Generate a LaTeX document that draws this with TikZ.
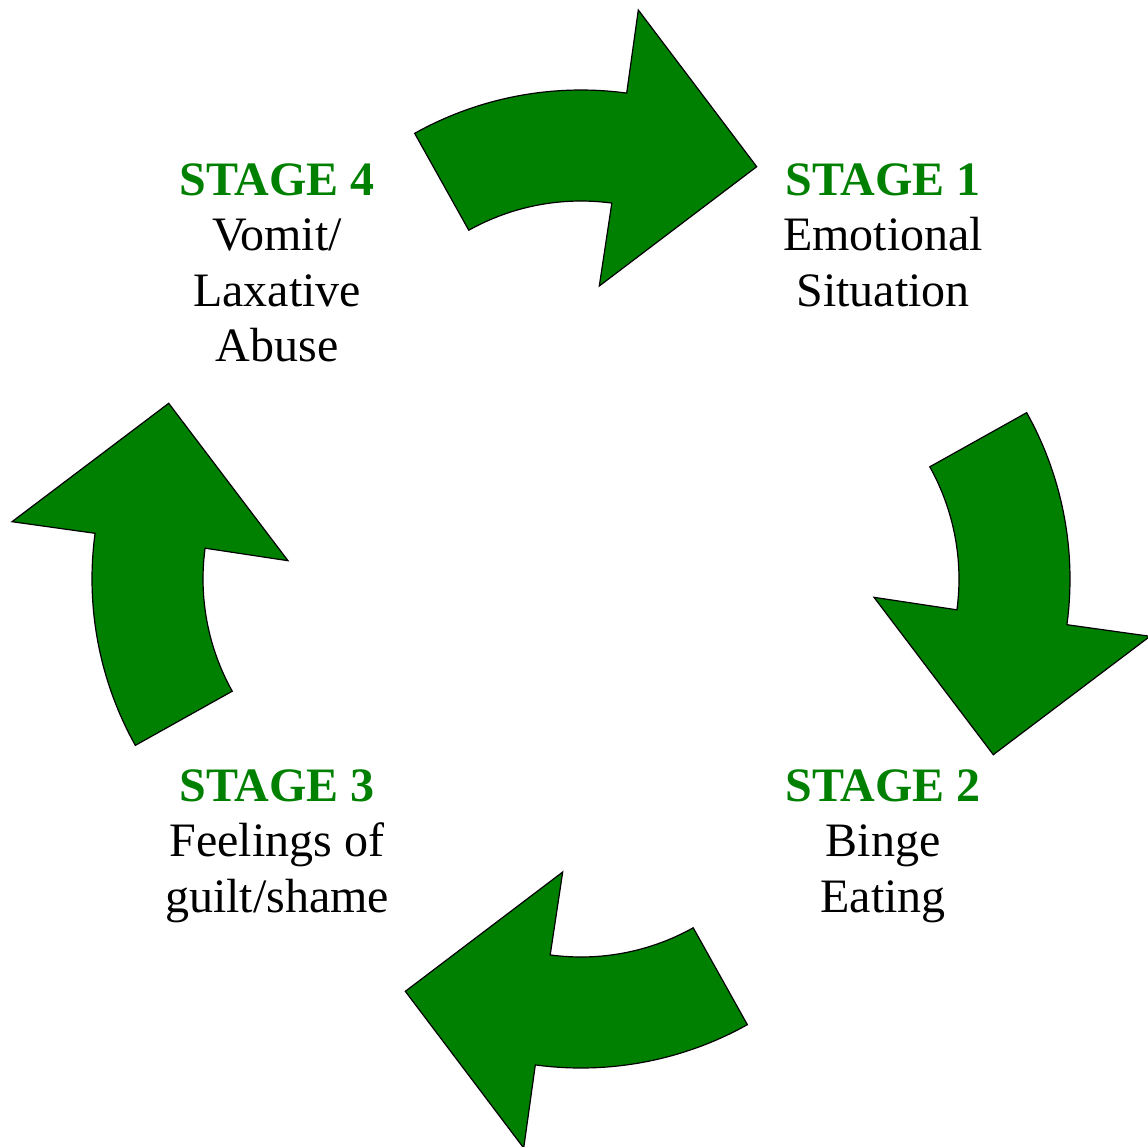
\documentclass[tikz,border=0pt]{standalone}
\usepackage{fontspec}
\setmainfont{Liberation Serif}
\usetikzlibrary{calc}
\definecolor{arrowgreen}{HTML}{008000}
\tikzset{
  cyclearrow/.style={fill=arrowgreen, draw=black, line width=1.2pt, line join=miter},
  stagetext/.style={align=center, inner sep=0pt, anchor=north, font=\fontsize{48}{55.5}\selectfont},
}
\newcommand{\stg}[1]{\textcolor{arrowgreen}{\textbf{STAGE #1}}}
\begin{document}
\begin{tikzpicture}[x=1pt,y=1pt]
\useasboundingbox (0,0) rectangle (1148,-1146);
\coordinate (O) at (581,-579);
\foreach \r [count=\i] in {0,-90,-180,-270}{
  \begin{scope}[shift={(O)}, rotate=\r]
    \path[cyclearrow] ($(0,148)+(119.2:341)$) coordinate (t\i)
      arc[start angle=119.2, end angle=82.3, radius=341]
      -- (57.3,569) -- (175.7,412.3) -- (18.3,293)
      -- ($(0,148)+(82.3:230)$)
      arc[start angle=82.3, end angle=119.2, radius=230] -- cycle;
  \end{scope}
}
\node[stagetext] (s1) at (883,-163.5) {\stg{1}\\Emotional\\Situation};
\node[stagetext] (s2) at (883,-769.5) {\stg{2}\\Binge\\Eating};
\node[stagetext] (s3) at (277,-769.5) {\stg{3}\\Feelings of\\guilt/shame};
\node[stagetext] (s4) at (277,-163.5) {\stg{4}\\Vomit/\\Laxative\\Abuse};
\end{tikzpicture}
\end{document}
